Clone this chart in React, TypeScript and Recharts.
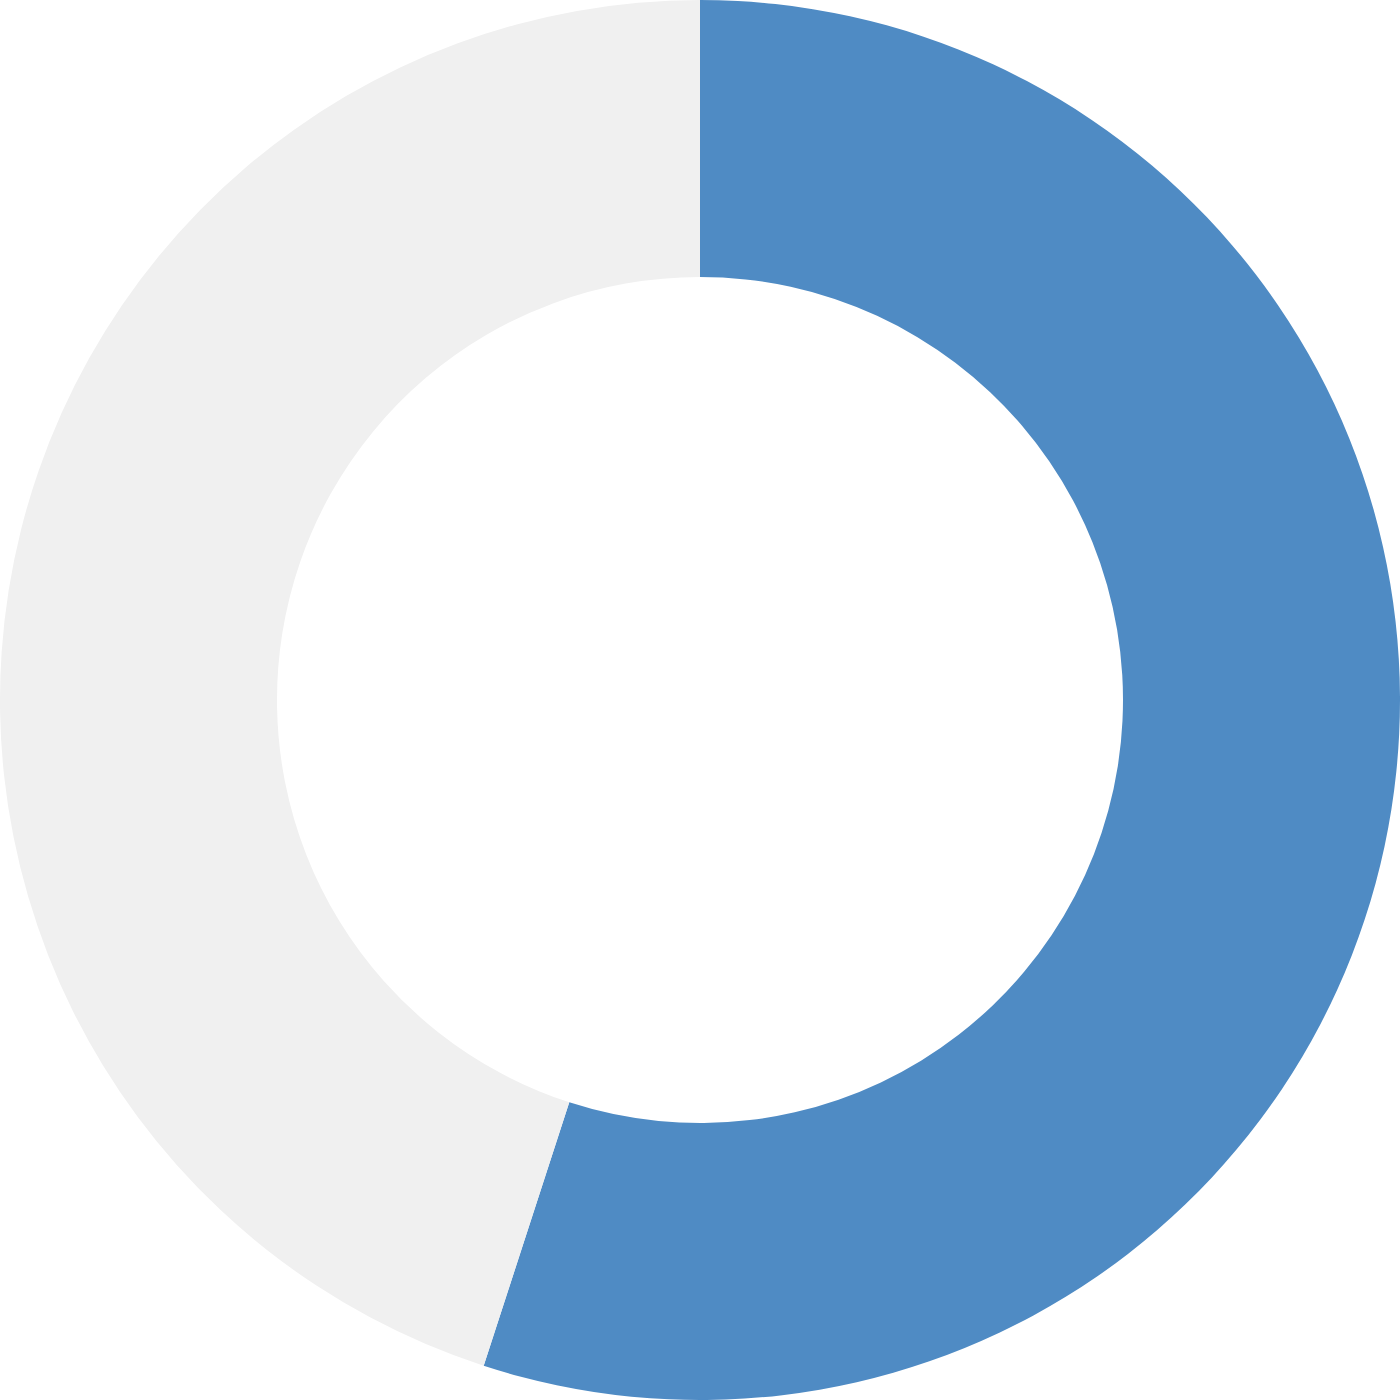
import React from "react";
import { Cell, Pie, PieChart } from "recharts";

const labels = ["Done", "Remaining"];
const values = [55, 45];
const colors = ["#4F8BC4", "#F0F0F0"];

const data = labels.map((name, i) => ({ name, value: values[i] }));

const App = () => {
  return (
    <div style={{ position: "absolute", left: 0, top: 0, width: 1400, height: 1400, background: "#fff" }}>
      <PieChart width={1400} height={1400} margin={{ top: 0, right: 0, bottom: 0, left: 0 }}>
        <Pie
          data={data}
          dataKey="value"
          nameKey="name"
          cx={700}
          cy={700}
          innerRadius={423}
          outerRadius={700}
          startAngle={90}
          endAngle={-270}
          stroke="none"
          isAnimationActive={false}
        >
          {data.map((entry, index) => (
            <Cell key={`cell-${index}`} fill={colors[index]} />
          ))}
        </Pie>
      </PieChart>
    </div>
  );
};

export default App;
